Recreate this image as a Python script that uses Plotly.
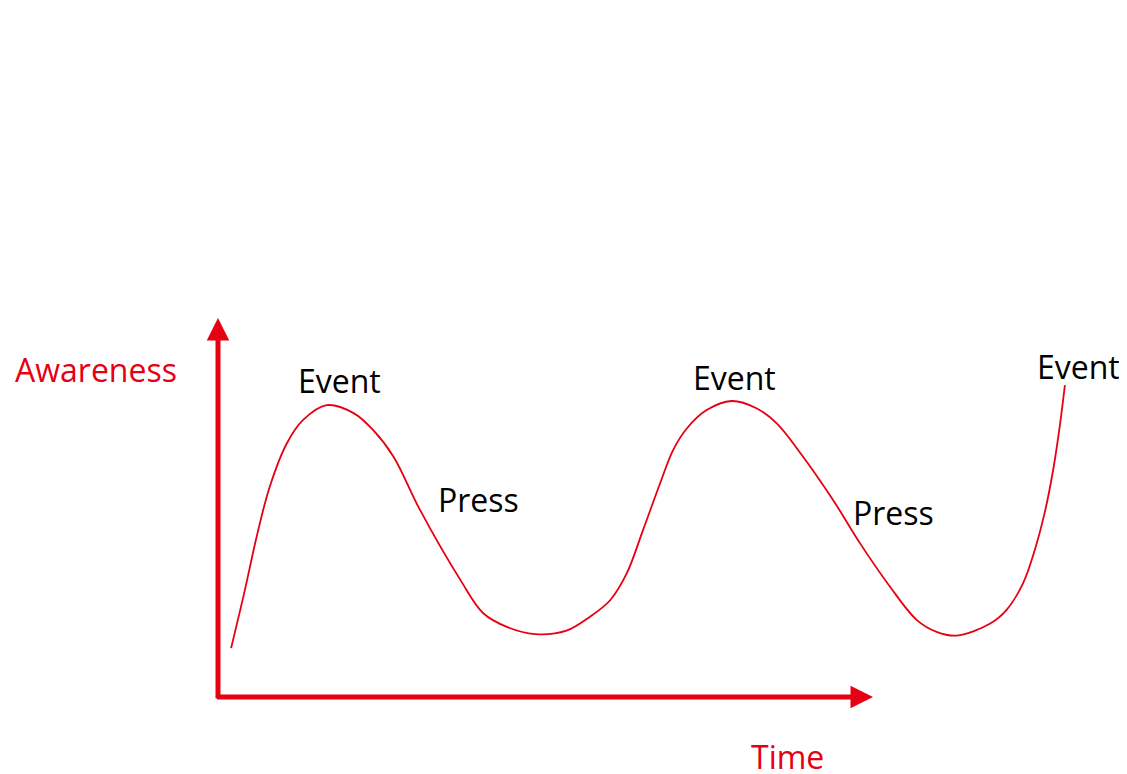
import plotly.graph_objects as go

# Curve data (time vs awareness, axis units: origin at 0,0; arrow tips at 100)
time = [2.0, 4.1, 5.9, 7.9, 10.5, 13.0, 16.6, 20.7, 23.7, 26.8, 30.8, 37.0,
        40.5, 44.1, 48.4, 53.2, 56.8, 59.9, 62.4, 64.9, 67.5, 69.5, 71.6, 74.6,
        78.4, 82.2, 85.3, 88.9, 93.9, 98.0, 102.6, 106.7, 109.7, 112.8, 117.9,
        120.4, 122.9, 124.7, 126.3, 127.5, 128.5, 129.3]
awareness = [12.9, 28.2, 42.3, 55.5, 66.9, 73.1, 77.0, 74.9, 70.4, 63.4, 49.5, 30.9,
             22.1, 18.5, 16.6, 17.5, 21.2, 25.6, 32.6, 44.1, 56.4, 65.2, 70.9, 75.7,
             78.1, 76.2, 72.2, 64.4, 52.0, 40.6, 29.1, 20.3, 17.2, 16.2, 19.4,
             23.0, 30.0, 38.8, 49.3, 59.9, 71.3, 82.3]

point_labels = ["Event", "Press", "Event", "Press", "Event"]
axis_titles = ["Awareness", "Time"]

RED = "#e60012"
# page body has an 8px margin; figure sized to fit the window
W, H = 1119, 766
X0, XS = 210, 6.55   # figure pixel of t=0, px per unit
Y0, YS = 689, 3.79   # figure pixel of a=0, px per unit

fig = go.Figure()
fig.add_trace(go.Scatter(x=time, y=awareness, mode="lines",
                         line=dict(color=RED, width=1.8, shape="spline", smoothing=1.0),
                         hoverinfo="skip", showlegend=False))

# axis arrows
fig.add_annotation(x=100, y=0, ax=-0.4, ay=0, xref="x", yref="y", axref="x", ayref="y",
                   showarrow=True, arrowhead=2, arrowsize=0.9, arrowwidth=5,
                   arrowcolor=RED, text="")
fig.add_annotation(x=0, y=100, ax=0, ay=-0.7, xref="x", yref="y", axref="x", ayref="y",
                   showarrow=True, arrowhead=2, arrowsize=0.9, arrowwidth=5,
                   arrowcolor=RED, text="")

FONT = "Open Sans"
label_pos = [(18.6, 83.6), (39.7, 52.2), (78.8, 84.4), (103.2, 48.8), (131.3, 87.3)]
for txt, (tx, ty) in zip(point_labels, label_pos):
    fig.add_annotation(x=tx, y=ty, text=txt, showarrow=False,
                       font=dict(family=FONT, size=32, color="black"))

fig.add_annotation(x=-18.6, y=86.3, text=axis_titles[0], showarrow=False,
                   font=dict(family=FONT, size=32, color=RED))
fig.add_annotation(x=87.0, y=-15.6, text=axis_titles[1], showarrow=False,
                   font=dict(family=FONT, size=32, color=RED))

fig.update_xaxes(range=[-X0 / XS, (W - X0) / XS], visible=False, fixedrange=True)
fig.update_yaxes(range=[-(H - Y0) / YS, Y0 / YS], visible=False, fixedrange=True)
fig.update_layout(width=W, height=H, margin=dict(l=0, r=0, t=0, b=0),
                  plot_bgcolor="white", paper_bgcolor="white")

fig.write_html("out.html", config={"displayModeBar": False})
